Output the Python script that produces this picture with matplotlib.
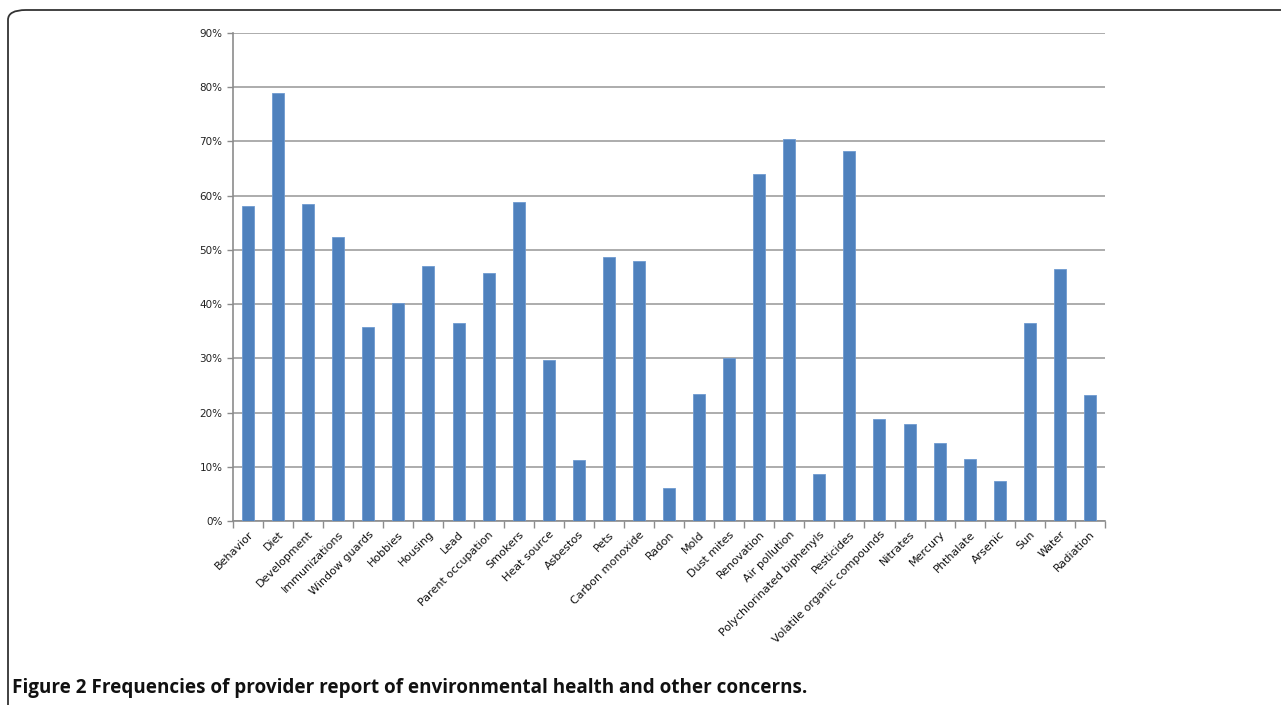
import matplotlib.pyplot as plt
from matplotlib.patches import FancyBboxPatch
import numpy as np

categories = ['Behavior', 'Diet', 'Development', 'Immunizations', 'Window guards',
              'Hobbies', 'Housing', 'Lead', 'Parent occupation', 'Smokers',
              'Heat source', 'Asbestos', 'Pets', 'Carbon monoxide', 'Radon', 'Mold',
              'Dust mites', 'Renovation', 'Air pollution', 'Polychlorinated biphenyls',
              'Pesticides', 'Volatile organic compounds', 'Nitrates', 'Mercury',
              'Phthalate', 'Arsenic', 'Sun', 'Water', 'Radiation']
values = [58.1, 79.0, 58.5, 52.4, 35.7, 40.2, 47.1, 36.5, 45.8, 58.9,
          29.7, 11.2, 48.6, 48.0, 6.0, 23.4, 30.0, 64.0, 70.4, 8.7,
          68.3, 18.8, 17.9, 14.3, 11.4, 7.4, 36.5, 46.5, 23.3]
yticks = list(range(0, 91, 10))

W, H = 1281, 705
fig = plt.figure(figsize=(W / 100, H / 100), dpi=100)

# rounded frame: only top and left edges are inside the picture
frame = FancyBboxPatch((8 / W, -0.1), 1.2, 1 - 10 / H + 0.1,
                       boxstyle='round,pad=0,rounding_size=0.014',
                       transform=fig.transFigure, facecolor='none',
                       edgecolor='#333333', lw=1.3, clip_on=False)
fig.patches.append(frame)

ax = fig.add_axes([233 / W, 1 - 521 / H, (1105 - 233) / W, (521 - 33) / H])
x = np.arange(len(categories))
ax.bar(x, values, width=0.4, color='#4f81bd', edgecolor='#6f9ad0', linewidth=0.6, zorder=3)

ax.set_xlim(-0.5, len(categories) - 0.5)
ax.set_ylim(0, 90)
ax.set_yticks(yticks)
ax.set_yticklabels([f'{v}%' for v in yticks], fontsize=7.5, color='#222222')
ax.yaxis.grid(True, color='#a6a6a6', linewidth=1.3, zorder=0)

ax.set_xticks(x)
ax.set_xticklabels(categories, rotation=45, ha='right', rotation_mode='anchor',
                   fontsize=8, color='#111111')
ax.set_xticks(np.arange(-0.5, len(categories)), minor=True)
ax.tick_params(axis='x', which='major', length=0, pad=6)
ax.tick_params(axis='x', which='minor', length=5, color='#8c8c8c', width=1)
ax.tick_params(axis='y', length=4, color='#8c8c8c', width=1)

for s in ['top', 'right']:
    ax.spines[s].set_visible(False)
for s in ['left', 'bottom']:
    ax.spines[s].set_color('#8c8c8c')
    ax.spines[s].set_linewidth(1.2)

fig.text(12 / W, 1 - 688 / H,
         'Figure 2 Frequencies of provider report of environmental health and other concerns.',
         fontsize=13.6, fontweight='bold', family='Open Sans', va='center', ha='left',
         color='#111111')

fig.savefig('out.png', dpi=100)
